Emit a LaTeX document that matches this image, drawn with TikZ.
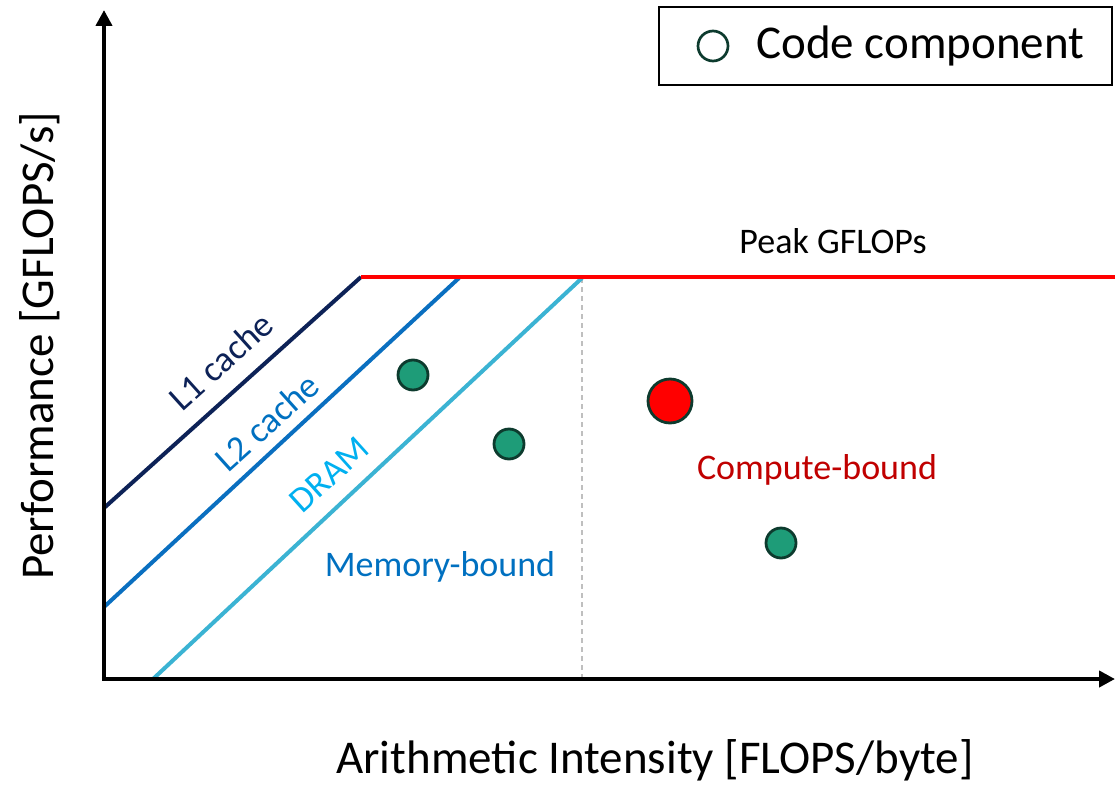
\documentclass[tikz,border=0pt]{standalone}
\usepackage{fontspec}
\setmainfont{Carlito}
\usetikzlibrary{arrows.meta}
\definecolor{lone}{HTML}{0D2257}
\definecolor{ltwo}{HTML}{0A6FC0}
\definecolor{ldram}{HTML}{3BB3D3}
\definecolor{tdram}{HTML}{00B0F0}
\definecolor{tblue}{HTML}{0070C0}
\definecolor{tred}{HTML}{C00000}
\definecolor{ptfill}{HTML}{1E9C78}
\definecolor{ptdraw}{HTML}{0D3B2E}
\definecolor{dashgray}{HTML}{BFBFBF}
\tikzset{
  axis/.style={line width=4.5pt,-{Triangle[length=16pt,width=16pt]}},
  roof/.style={line width=4pt},
  pt/.style={circle,draw=ptdraw,line width=2.8pt,fill=ptfill,minimum size=30pt,inner sep=0pt},
  bigtxt/.style={font=\fontsize{47}{56}\selectfont,inner sep=0pt},
  midtxt/.style={font=\fontsize{36}{43}\selectfont,inner sep=0pt},
}
\begin{document}
\begin{tikzpicture}[x=1pt,y=-1pt]
\useasboundingbox (0,0) rectangle (1115,784);
% coordinates
\coordinate (O) at (104,679);
\coordinate (Ytop) at (104,10);
\coordinate (Xend) at (1115,679);
\coordinate (a1) at (104,508);
\coordinate (b1) at (361,277);
\coordinate (a2) at (104,607);
\coordinate (b2) at (459,278);
\coordinate (a3) at (153,679);
\coordinate (b3) at (582,278);
\coordinate (rend) at (1115,277);
\coordinate (dbot) at (582,679);
% dashed ridge
\draw[dashgray,line width=1.3pt,dash pattern=on 5pt off 4pt] (b3) -- (dbot);
% roofs
\draw[roof,lone] (a1) -- (b1);
\draw[roof,ltwo] (a2) -- (b2);
\draw[roof,ldram] (a3) -- (b3);
\draw[roof,red] (b1) -- (rend);
% axes
\draw[axis] (O) -- (Ytop);
\draw[axis] ([xshift=-2.25pt]O) -- (Xend);
% labels
\node[midtxt,text=lone,rotate=42] (l1) at (221,361) {L1 cache};
\node[midtxt,text=tblue,rotate=42] (l2) at (267,422) {L2 cache};
\node[midtxt,text=tdram,rotate=42] (l3) at (329,475) {DRAM};
\node[midtxt] (peak) at (833,241) {Peak GFLOPs};
\node[midtxt,text=tblue] (mem) at (440,567) {Memory-bound};
\node[midtxt,text=tred] (comp) at (817,470) {Compute-bound};
\node[bigtxt] (xl) at (655,760) {Arithmetic Intensity [FLOPS/byte]};
\node[bigtxt,rotate=90] (yl) at (40,346) {Performance [GFLOPS/s]};
% points
\node[pt] (p1) at (413,375) {};
\node[pt] (p2) at (509,444) {};
\node[pt] (p3) at (781,543) {};
\node[pt,fill=red,minimum size=44pt] (p4) at (670,401) {};
% legend
\node[draw=black,line width=2pt,minimum width=453pt,minimum height=77pt,inner sep=0pt] (leg) at (885,46) {};
\node[circle,draw=ptdraw,line width=2.7pt,minimum size=30pt,inner sep=0pt] (legc) at (713,46) {};
\node[bigtxt,anchor=west] (legt) at (756,46) {Code component};
\end{tikzpicture}
\end{document}
